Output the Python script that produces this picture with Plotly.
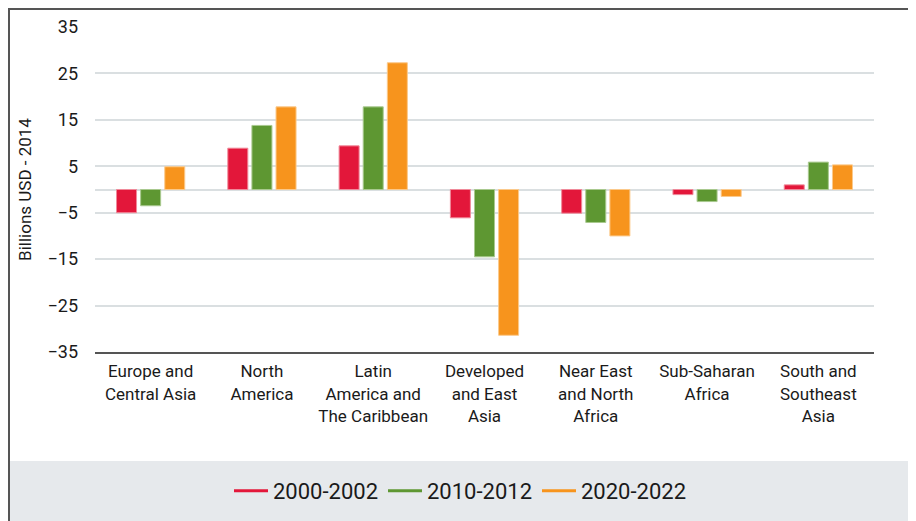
import plotly.graph_objects as go

REGIONS = [
    "Europe and<br>Central Asia",
    "North<br>America",
    "Latin<br>America and<br>The Caribbean",
    "Developed<br>and East<br>Asia",
    "Near East<br>and North<br>Africa",
    "Sub-Saharan<br>Africa",
    "South and<br>Southeast<br>Asia",
]
PERIODS = ["2000-2002", "2010-2012", "2020-2022"]
V_2000 = [-5.0, 8.9, 9.4, -6.1, -5.1, -1.1, 1.0]
V_2010 = [-3.5, 13.8, 17.8, -14.5, -7.1, -2.6, 5.9]
V_2020 = [4.9, 17.8, 27.3, -31.4, -10.0, -1.5, 5.3]
Y_TICKS = [-35, -25, -15, -5, 5, 15, 25, 35]

COLORS = ["#E3173A", "#5E9732", "#F7941D"]
EDGES = ["#F08A9A", "#A9C98F", "#FBC98B"]
FONT = "Roboto, Liberation Sans Narrow, sans-serif"

fig = go.Figure()
for name, vals, col, edge in zip(PERIODS, [V_2000, V_2010, V_2020], COLORS, EDGES):
    fig.add_trace(go.Bar(
        x=REGIONS, y=vals, name=name, marker_color=col,
        marker_line=dict(color=edge, width=1), showlegend=False,
    ))
    # line swatch for the legend
    fig.add_trace(go.Scatter(
        x=[None], y=[None], mode="lines", name=name,
        line=dict(color=col, width=3),
    ))

# page has an 8px body margin; plot area on the page is x 95..874, y 27..352
def px_x(p):
    return (p - 95) / 779

def px_y(p):
    return (352 - p) / 325

shapes = [
    # grey legend band
    dict(type="rect", xref="paper", yref="paper", layer="below",
         x0=px_x(9), x1=px_x(930), y0=px_y(461), y1=px_y(530),
         fillcolor="#E6E9EC", line_width=0),
    # frame
    dict(type="line", xref="paper", yref="paper",
         x0=px_x(9), x1=px_x(9), y0=px_y(8), y1=px_y(530),
         line=dict(color="#555555", width=2)),
    dict(type="line", xref="paper", yref="paper",
         x0=px_x(8), x1=px_x(930), y0=px_y(9), y1=px_y(9),
         line=dict(color="#555555", width=2)),
]

fig.update_layout(
    width=908, height=513,
    margin=dict(l=87, r=42, t=19, b=169, autoexpand=False),
    paper_bgcolor="white", plot_bgcolor="white",
    font=dict(family=FONT, size=17, color="#1a1a1a"),
    barmode="group", bargap=0.35, bargroupgap=0.17,
    shapes=shapes,
    legend=dict(
        orientation="h", x=px_x(460), y=px_y(491),
        xanchor="center", yanchor="middle",
        font=dict(size=22), bgcolor="rgba(0,0,0,0)", itemwidth=34,
    ),
    xaxis=dict(
        showline=True, linecolor="#555555", linewidth=2,
        showgrid=False, ticks="outside", ticklen=3, tickcolor="rgba(0,0,0,0)",
        tickfont=dict(size=17), automargin=False,
    ),
    yaxis=dict(
        range=[-35, 35], tickvals=Y_TICKS, showgrid=True,
        gridcolor="#DADFE1", gridwidth=1.5,
        zeroline=True, zerolinecolor="#DADFE1", zerolinewidth=1.5,
        ticks="", ticklabelstandoff=16, tickfont=dict(size=18),
        automargin=False,
        title=dict(text="Billions USD - 2014", font=dict(size=17), standoff=11),
    ),
)

fig.write_html("out.html")
